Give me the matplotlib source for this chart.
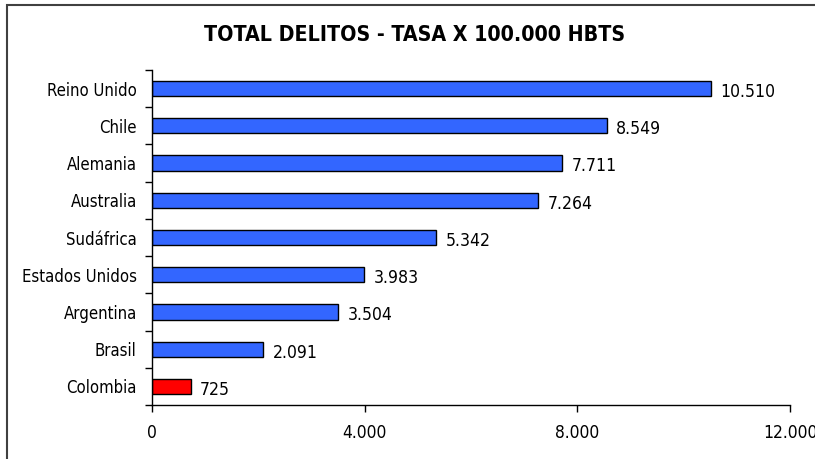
import matplotlib.pyplot as plt
from matplotlib.patches import Rectangle

# data (top to bottom as in the chart)
paises = ['Reino Unido', 'Chile', 'Alemania', 'Australia', 'Sudáfrica',
          'Estados Unidos', 'Argentina', 'Brasil', 'Colombia']
tasas = [10510, 8549, 7711, 7264, 5342, 3983, 3504, 2091, 725]
colores = ['#3366FF'] * 8 + ['#FF0000']
xticks = [0, 4000, 8000, 12000]


def miles(v):
    return f'{v:,}'.replace(',', '.')


plt.rcParams['font.family'] = ['DejaVu Sans']
plt.rcParams['font.stretch'] = 'condensed'

fig = plt.figure(figsize=(8.15, 4.59), dpi=100)
ax = fig.add_axes([0.1865, 0.1176, 0.7828, 0.7299])

pos = list(range(len(paises)))[::-1]
ax.barh(pos, tasas, height=0.41, color=colores, edgecolor='black', linewidth=1)
for p, v in zip(pos, tasas):
    ax.text(v + 180, p - 0.09, miles(v), va='center', ha='left', fontsize=12.6)

ax.set_xlim(0, 12000)
ax.set_ylim(-0.5, len(paises) - 0.5)
ax.set_xticks(xticks)
ax.set_xticklabels([miles(t) for t in xticks], fontsize=12.5)
ax.set_yticks(pos)
ax.set_yticklabels(paises, fontsize=12)
ax.tick_params(axis='y', length=0, pad=11)
ax.set_yticks([i - 0.5 for i in range(len(paises) + 1)], minor=True)
ax.tick_params(axis='y', which='minor', length=5, direction='out', width=1)
ax.tick_params(axis='x', length=5, direction='out', width=1, pad=9)

for s in ['top', 'right']:
    ax.spines[s].set_visible(False)
ax.spines['left'].set_linewidth(1)
ax.spines['bottom'].set_linewidth(1)

fig.text(0.509, 0.924, 'TOTAL DELITOS - TASA X 100.000 HBTS', ha='center', va='center',
         fontsize=15.3, fontweight='bold')

# chart border (bottom and right edges fall outside the image, as in the original)
fig.patches.append(Rectangle((0.009, -0.02), 1.2, 1.01, transform=fig.transFigure,
                             fill=False, edgecolor='#404040', linewidth=1.5))

fig.savefig('out.png', dpi=100)
